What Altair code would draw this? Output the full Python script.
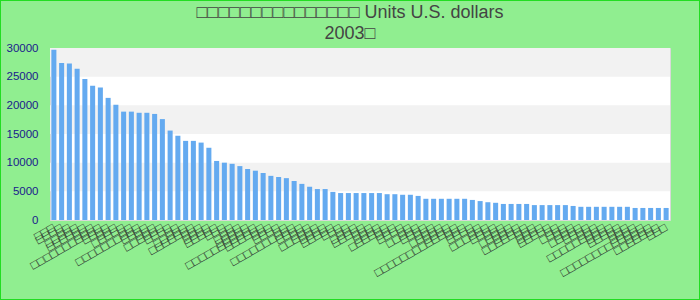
import altair as alt
import pandas as pd

title_lines = ["□□□□□□□□□□□□□□□ Units U.S. dollars", "2003□"]

values = [29700, 27400, 27300, 26400, 24600, 23400, 23100, 21300, 20100, 18900,
          18900, 18700, 18700, 18500, 17600, 15600, 14700, 13800, 13800, 13500,
          12600, 10300, 10000, 9800, 9400, 8900, 8600, 8200, 7700, 7500,
          7300, 6800, 6300, 5800, 5400, 5400, 4900, 4700, 4700, 4700,
          4700, 4700, 4700, 4500, 4500, 4400, 4400, 4200, 3700, 3700,
          3700, 3700, 3700, 3700, 3500, 3300, 3100, 3000, 2800, 2800,
          2800, 2800, 2600, 2600, 2600, 2600, 2600, 2450, 2300, 2300,
          2300, 2300, 2300, 2300, 2300, 2100, 2100, 2100, 2100, 2100]

labels = ["□□□", "□□□□", "□□", "□□□□□", "□□□□□□", "□□□", "□□□□□□□□□□□", "□□□□", "□□□", "□□□□□",
          "□□", "□□□□□□□□□□", "□□□□", "□□□", "□□□□□□", "□□□□", "□□", "□□□□□", "□□□□□□□", "□□□",
          "□□□□", "□□□□□", "□□□", "□□", "□□□□", "□□□□□", "□□□□□□□□□□□", "□□□□□□", "□□□", "□□□□",
          "□□", "□□□□□□□□□□", "□□□□", "□□□", "□□□□□□", "□□□□", "□□□□□", "□□□", "□□", "□□□□",
          "□□□□□", "□□□", "□□□□", "□□□□□□", "□□□", "□□□□", "□□", "□□□□□", "□□□□", "□□□",
          "□□□□□", "□□□□", "□□□□□□□□□□□□□", "□□□", "□□□□", "□□", "□□□□□□", "□□□□", "□□□", "□□□□□",
          "□□□□", "□□□□□□□", "□□□", "□□□□", "□□□□□", "□□", "□□□□", "□□□", "□□□□□", "□□□□",
          "□□□", "□□□□□□□□□", "□□□□", "□□□□□", "□□□", "□□□□", "□□□□□□□□□□□□□", "□□□□", "□□□□□□□", "□□□"]

y_ticks = [0, 5000, 10000, 15000, 20000, 25000, 30000]
gray_starts = [5000, 15000, 25000]
gray_ends = [10000, 20000, 30000]

df = pd.DataFrame({"idx": list(range(len(values))), "value": values})
bands = pd.DataFrame({"y0": gray_starts, "y1": gray_ends})

label_expr = "[" + ",".join("'" + s + "'" for s in labels) + "][datum.value]"

y_scale = alt.Scale(domain=[0, 30000], nice=False)
y_axis = alt.Axis(title=None, values=y_ticks, labelOverlap=False,
                  format="d", grid=False, ticks=False, domain=False,
                  labelFont="Liberation Sans", labelFontSize=11.5,
                  labelColor="#1a1a8c", labelPadding=12)

band_layer = alt.Chart(bands).mark_rect(color="#f2f2f2").encode(
    y=alt.Y("y0:Q", scale=y_scale, axis=y_axis),
    y2="y1:Q",
    x=alt.value(0),
    x2=alt.value(620),
)

bars = alt.Chart(df).mark_bar(color="#64aaf0").encode(
    x=alt.X("idx:O",
            scale=alt.Scale(paddingInner=0.35, paddingOuter=0.175),
            axis=alt.Axis(title=None, labelExpr=label_expr, labelAngle=-30,
                          labelAlign="right", labelBaseline="middle",
                          labelFont="Liberation Sans", labelFontSize=12,
                          labelColor="#2a2a2a", labelPadding=6, ticks=False,
                          domain=False, labelOverlap=False)),
    y=alt.Y("value:Q", scale=y_scale, axis=y_axis),
)

frame = alt.Chart(df).mark_rect(fill=None, stroke="#22dd22", strokeWidth=1).encode(
    x=alt.value(-49.5), x2=alt.value(649.5), y=alt.value(-47.5), y2=alt.value(251.5)
)

chart = alt.layer(band_layer, bars, frame).properties(
    width=620,
    height=172,
    padding={"left": 50, "top": 48, "right": 30, "bottom": 80},
    autosize=alt.AutoSizeParams(type="none"),
    background="#90ee90",
    title=alt.TitleParams(text=title_lines, anchor="middle", dx=-10,
                          font="Liberation Sans", fontSize=18, fontWeight="normal",
                          color="#444444", lineHeight=21, offset=-43),
).configure_view(stroke="#d9d9d9", strokeWidth=1, fill="white")

chart.save("out.html", embed_options={"renderer": "svg", "actions": False})
